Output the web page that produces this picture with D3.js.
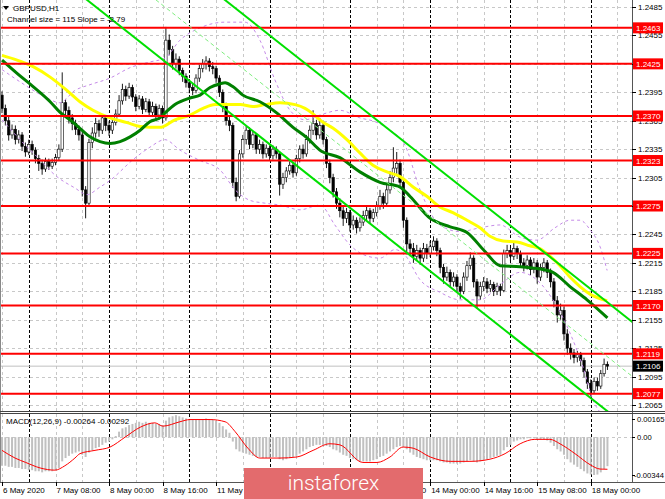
<!DOCTYPE html>
<html><head><meta charset="utf-8">
<script src="https://cdn.jsdelivr.net/npm/d3@7"></script>
<style>
body{margin:0;background:#fff}
svg{display:block}
text{font-family:"Liberation Sans",Arial,sans-serif;font-size:8px}
</style>
</head><body>
<svg id="chart" width="665" height="499"></svg>
<script>
// ---------- DATA ----------
const firstOpen = 1.2392;
const closes = [
1.2378,1.2365,1.2350,1.2356,1.2345,1.2350,1.2338,1.2332,1.2340,1.2334,
1.2325,1.2320,1.2314,1.2322,1.2317,1.2321,1.2326,1.2335,1.2384,1.2376,
1.2368,1.2362,1.2356,1.2350,1.2292,1.2278,1.2342,1.2352,1.2362,1.2355,
1.2368,1.2360,1.2355,1.2363,1.2372,1.2386,1.2398,1.2391,1.2400,1.2390,
1.2380,1.2388,1.2377,1.2385,1.2374,1.2380,1.2371,1.2378,1.2368,1.2450,
1.2440,1.2425,1.2430,1.2418,1.2412,1.2405,1.2400,1.2397,1.2410,1.2420,
1.2425,1.2428,1.2422,1.2420,1.2410,1.2395,1.2380,1.2365,1.2360,1.2300,
1.2285,1.2330,1.2345,1.2355,1.2340,1.2350,1.2335,1.2340,1.2330,1.2336,
1.2328,1.2335,1.2330,1.2298,1.2305,1.2312,1.2318,1.2310,1.2325,1.2335,
1.2330,1.2345,1.2355,1.2362,1.2350,1.2360,1.2345,1.2320,1.2305,1.2290,
1.2278,1.2270,1.2262,1.2268,1.2255,1.2260,1.2252,1.2258,1.2265,1.2270,
1.2262,1.2268,1.2275,1.2285,1.2278,1.2292,1.2305,1.2315,1.2320,1.2300,
1.2260,1.2235,1.2230,1.2222,1.2228,1.2220,1.2230,1.2225,1.2232,1.2238,
1.2228,1.2210,1.2200,1.2205,1.2195,1.2200,1.2190,1.2185,1.2200,1.2212,
1.2220,1.2195,1.2180,1.2190,1.2195,1.2188,1.2192,1.2185,1.2190,1.2186,
1.2225,1.2228,1.2222,1.2230,1.2225,1.2215,1.2212,1.2218,1.2208,1.2215,
1.2200,1.2210,1.2215,1.2205,1.2195,1.2175,1.2160,1.2165,1.2140,1.2125,
1.2120,1.2115,1.2118,1.2112,1.2100,1.2088,1.2080,1.2090,1.2085,1.2098,
1.2108,1.2106];
const highs = [
1.2396,1.2382,1.2369,1.2361,1.2360,1.2355,1.2353,1.2342,1.2345,1.2344,
1.2337,1.2329,1.2324,1.2326,1.2325,1.2325,1.2330,1.2340,1.2416,1.2388,
1.2380,1.2372,1.2366,1.2360,1.2353,1.2296,1.2346,1.2358,1.2368,1.2366,
1.2372,1.2371,1.2364,1.2367,1.2377,1.2392,1.2404,1.2402,1.2405,1.2403,
1.2393,1.2392,1.2391,1.2389,1.2388,1.2385,1.2383,1.2382,1.2381,1.2464,
1.2456,1.2444,1.2436,1.2433,1.2421,1.2415,1.2409,1.2404,1.2414,1.2424,
1.2430,1.2433,1.2431,1.2427,1.2423,1.2413,1.2398,1.2384,1.2370,1.2363,
1.2305,1.2334,1.2350,1.2360,1.2358,1.2354,1.2352,1.2345,1.2343,1.2340,
1.2339,1.2339,1.2338,1.2333,1.2310,1.2316,1.2322,1.2321,1.2329,1.2339,
1.2340,1.2350,1.2360,1.2376,1.2366,1.2368,1.2364,1.2348,1.2324,1.2309,
1.2294,1.2283,1.2275,1.2273,1.2271,1.2265,1.2263,1.2263,1.2270,1.2274,
1.2273,1.2272,1.2280,1.2292,1.2289,1.2298,1.2312,1.2337,1.2332,1.2324,
1.2303,1.2263,1.2240,1.2236,1.2234,1.2231,1.2236,1.2235,1.2238,1.2243,
1.2241,1.2231,1.2214,1.2211,1.2208,1.2205,1.2203,1.2194,1.2205,1.2217,
1.2226,1.2223,1.2198,1.2195,1.2200,1.2199,1.2197,1.2195,1.2194,1.2193,
1.2229,1.2234,1.2231,1.2236,1.2233,1.2228,1.2220,1.2223,1.2221,1.2220,
1.2218,1.2214,1.2220,1.2218,1.2209,1.2199,1.2180,1.2172,1.2169,1.2145,
1.2130,1.2124,1.2122,1.2121,1.2115,1.2103,1.2092,1.2094,1.2094,1.2102,
1.2114,1.2111];
const lows = [
1.2373,1.2360,1.2344,1.2346,1.2340,1.2341,1.2333,1.2327,1.2329,1.2329,
1.2320,1.2312,1.2308,1.2311,1.2313,1.2314,1.2318,1.2323,1.2332,1.2370,
1.2362,1.2355,1.2350,1.2344,1.2285,1.2262,1.2275,1.2336,1.2347,1.2348,
1.2351,1.2354,1.2349,1.2351,1.2360,1.2369,1.2382,1.2386,1.2388,1.2385,
1.2375,1.2377,1.2372,1.2374,1.2369,1.2370,1.2365,1.2366,1.2362,1.2365,
1.2434,1.2419,1.2420,1.2413,1.2406,1.2400,1.2394,1.2392,1.2394,1.2406,
1.2416,1.2419,1.2417,1.2414,1.2405,1.2390,1.2374,1.2360,1.2354,1.2294,
1.2280,1.2283,1.2326,1.2340,1.2335,1.2336,1.2330,1.2330,1.2325,1.2326,
1.2323,1.2324,1.2325,1.2286,1.2293,1.2300,1.2308,1.2305,1.2307,1.2321,
1.2325,1.2327,1.2341,1.2350,1.2345,1.2346,1.2340,1.2315,1.2299,1.2284,
1.2272,1.2263,1.2254,1.2257,1.2248,1.2250,1.2246,1.2248,1.2254,1.2260,
1.2257,1.2258,1.2264,1.2271,1.2272,1.2275,1.2288,1.2300,1.2309,1.2294,
1.2252,1.2224,1.2222,1.2215,1.2217,1.2213,1.2216,1.2219,1.2221,1.2228,
1.2222,1.2204,1.2193,1.2196,1.2189,1.2190,1.2184,1.2177,1.2182,1.2196,
1.2208,1.2189,1.2167,1.2176,1.2185,1.2183,1.2184,1.2180,1.2181,1.2180,
1.2184,1.2220,1.2217,1.2218,1.2219,1.2210,1.2206,1.2208,1.2202,1.2204,
1.2193,1.2196,1.2205,1.2199,1.2189,1.2168,1.2152,1.2155,1.2133,1.2118,
1.2113,1.2109,1.2110,1.2106,1.2094,1.2082,1.2074,1.2077,1.2080,1.2082,
1.2095,1.2102];

const macdMain = [
-0.0026,-0.0026,-0.0027,-0.0027,-0.0028,-0.0028,-0.0029,-0.0029,-0.0030,-0.0030,
-0.0031,-0.0031,-0.0032,-0.0031,-0.0031,-0.0031,-0.0030,-0.0028,-0.0022,-0.0019,
-0.0017,-0.0015,-0.0014,-0.0013,-0.0016,-0.0018,-0.0014,-0.0012,-0.0010,-0.0009,
-0.0007,-0.0005,-0.0004,-0.0002,0.0001,0.0005,0.0008,0.0009,0.0011,0.0012,
0.0013,0.0014,0.0013,0.0014,0.0013,0.0013,0.0012,0.0012,0.0011,0.0015,
0.0018,0.0019,0.0020,0.0019,0.0018,0.0017,0.0016,0.0016,0.0016,0.0016,
0.0016,0.0017,0.0016,0.0016,0.0015,0.0013,0.0010,0.0007,0.0004,-0.0004,
-0.0011,-0.0013,-0.0014,-0.0015,-0.0016,-0.0017,-0.0018,-0.0018,-0.0019,-0.0019,
-0.0019,-0.0018,-0.0018,-0.0020,-0.0021,-0.0020,-0.0019,-0.0018,-0.0017,-0.0015,
-0.0013,-0.0011,-0.0009,-0.0008,-0.0007,-0.0007,-0.0007,-0.0008,-0.0009,-0.0011,
-0.0012,-0.0014,-0.0016,-0.0017,-0.0019,-0.0020,-0.0021,-0.0022,-0.0022,-0.0022,
-0.0022,-0.0021,-0.0020,-0.0018,-0.0017,-0.0015,-0.0013,-0.0011,-0.0009,-0.0008,
-0.0009,-0.0011,-0.0014,-0.0016,-0.0018,-0.0019,-0.0020,-0.0021,-0.0021,-0.0021,
-0.0021,-0.0022,-0.0023,-0.0023,-0.0024,-0.0024,-0.0024,-0.0024,-0.0023,-0.0022,
-0.0021,-0.0022,-0.0023,-0.0022,-0.0021,-0.0020,-0.0019,-0.0018,-0.0017,-0.0016,
-0.0012,-0.0009,-0.0007,-0.0004,-0.0003,-0.0002,-0.0002,-0.0001,-0.0001,-0.0001,
-0.0002,-0.0002,-0.0002,-0.0003,-0.0005,-0.0008,-0.0011,-0.0013,-0.0016,-0.0020,
-0.0023,-0.0025,-0.0027,-0.0029,-0.0031,-0.0033,-0.0034,-0.00344,-0.0034,-0.0032,
-0.0029,-0.00264];
const macdSignal = [[0,-0.0012],[3.9,-0.0019],[7.1,-0.0023],[11.4,-0.0028],[15.8,-0.0030],[18.8,-0.0026],
[21.8,-0.0019],[23.3,-0.0015],[27.8,-0.0012],[32.3,-0.0009],[36.8,0.0000],[41.3,0.0009],
[45.7,0.0013],[48.1,0.0010],[53.2,0.0014],[56.2,0.0016],[62.2,0.0016],[66.7,0.0014],
[69.7,0.0005],[73.5,-0.0010],[77.1,-0.0019],[83.1,-0.0019],[88.2,-0.0018],[93,-0.0012],
[98,-0.0006],[101,-0.0007],[107.9,-0.0023],[112.1,-0.0023],[116,-0.0018],[119.9,-0.0009],[122.9,-0.0010],
[128,-0.0018],[134,-0.0022],[139.9,-0.0022],[145.9,-0.0020],[150.4,-0.0015],[154.9,-0.0006],[159.3,-0.0002],
[163.8,-0.0002],[166.8,-0.0006],[171.3,-0.0015],[175.8,-0.0025],[178.8,-0.0029],[181,-0.00292]];

const maYellow = [[0,1.2434],[4.5,1.2429],[9.3,1.2422],[14.4,1.2411],[19.4,1.2397],[23.3,1.2385],[27.2,1.2376],
[32.3,1.2368],[37.4,1.2363],[41.3,1.2359],[47.2,1.2358],[51.7,1.2366],[56.2,1.2371],[60.1,1.2378],[63.7,1.2382],
[71.2,1.2382],[75,1.2380],[78.6,1.2382],[83.1,1.2384],[87.6,1.2382],[90.6,1.2378],[92.7,1.2373],[95.7,1.2364],
[99,1.2357],[103.1,1.2345],[107,1.2331],[110.9,1.2318],[115.1,1.2311],[119,1.2306],[122.9,1.2295],[127.1,1.2285],
[130.9,1.2274],[134.8,1.2268],[139,1.2260],[142.9,1.2252],[145.9,1.2243],[149.8,1.2238],[154,1.2237],
[157.8,1.2233],[160.8,1.2230],[163.8,1.2222],[166.8,1.2212],[169.8,1.2200],[172.8,1.2190],[175.8,1.2182],[180.9,1.2175]];
const maGreen = [[0,1.2429],[4.5,1.2415],[9.3,1.2401],[14.4,1.2385],[17.3,1.2374],[20.3,1.2366],[23.3,1.2357],
[26.3,1.2348],[29.3,1.2343],[32.3,1.2341],[35.3,1.2343],[38.3,1.2348],[41.3,1.2355],[44.2,1.2364],[47.2,1.2368],
[48.7,1.2373],[51.7,1.2382],[56.2,1.2389],[59.2,1.2392],[62.2,1.2400],[65.2,1.2404],[66.7,1.2405],[69,1.2401],
[72,1.2392],[77.1,1.2385],[82.2,1.2373],[87,1.2358],[91.2,1.2347],[95,1.2334],[101,1.2326],[107,1.2311],
[113,1.2300],[119,1.2295],[122,1.2285],[128,1.2262],[134,1.2253],[139,1.2247],[144.4,1.2227],[148.9,1.2212],
[154.9,1.2211],[159.9,1.2209],[164.7,1.2205],[169.8,1.2190],[174.9,1.2176],[181,1.2157]];
const bandUpper = [[0,1.2419],[5.4,1.2406],[12.9,1.2390],[17.3,1.2384],[21.8,1.2397],[26.3,1.2403],[32.3,1.2410],
[38.3,1.2421],[44.2,1.2427],[48.7,1.2431],[53.2,1.2450],[59.2,1.2463],[66.7,1.2469],[72.6,1.2469],[77.1,1.2450],
[81.6,1.2408],[86.1,1.2376],[90.6,1.2366],[95.1,1.2371],[101,1.2376],[107,1.2368],[111.5,1.2364],[116,1.2355],
[120.5,1.2339],[125,1.2292],[130.9,1.2255],[136.9,1.2248],[142.9,1.2252],[148.9,1.2255],[154.9,1.2242],
[159.9,1.2239],[165.3,1.2252],[169.8,1.2260],[172.8,1.2260],[175.8,1.2250],[178.8,1.2232],[180.9,1.2207]];
const bandLower = [[0,1.2366],[5.4,1.2345],[9.9,1.2329],[16.4,1.2306],[21.8,1.2294],[25.4,1.2287],[29.3,1.2295],
[32.3,1.2302],[39.2,1.2324],[44.2,1.2337],[48.7,1.2345],[53.2,1.2334],[59.2,1.2323],[65.2,1.2313],[69.7,1.2292],
[74.1,1.2281],[78.6,1.2278],[83.1,1.2276],[89.1,1.2271],[95.1,1.2276],[99.5,1.2255],[104,1.2234],[108.5,1.2223],
[113,1.2220],[117.5,1.2229],[120.5,1.2223],[125,1.2197],[130.9,1.2184],[136.9,1.2176],[142.9,1.2176],
[148.9,1.2192],[154.9,1.2205],[159.9,1.2197],[164.7,1.2176],[169.8,1.2141],[173.7,1.2105],[176.7,1.2070],[179.7,1.2054]];

const levels = [1.2463,1.2425,1.2370,1.2323,1.2275,1.2225,1.2170,1.2119,1.2077];
const priceTicks = [1.2485,1.2455,1.2425,1.2395,1.2365,1.2335,1.2305,1.2275,1.2245,1.2215,1.2185,1.2155,1.2125,1.2095,1.2065];
const lastPrice = 1.2106;
const macdTicks = [0.00165, 0.00, -0.00344];
const timeLabels = [[0,"6 May 2020"],[16,"7 May 08:00"],[32,"8 May 00:00"],[48,"8 May 16:00"],[64,"11 May 08:00"],
[80,"12 May 00:00"],[96,"12 May 16:00"],[112,"13 May 08:00"],[128,"14 May 00:00"],[144,"14 May 16:00"],
[160,"15 May 08:00"],[176,"18 May 00:00"]];
const daySeparators = [8,32,56,80,104,128,152,176];
const gridBars = [0,16,24,40,48,64,72,88,96,112,120,136,144,160,168,184];
const channelLower = [[0,1.25634],[190,1.20333]];
const channelSize = 0.0115;

// ---------- DRAWING ----------
const svg = d3.select("#chart");
const W = 632, mainBottom = 411, macdTop = 414, macdBottom = 482;
const logo = {x0:244, x1:423, y0:468};
const x = d3.scaleLinear().domain([0,181]).range([2, 2+181*3.345]);
const y = d3.scaleLinear().domain([1.2065,1.2485]).range([405,7]);
const yM = d3.scaleLinear().domain([-0.00344,0.00165]).range([475,419]);

const defs = svg.append("defs");
defs.append("clipPath").attr("id","clipMain").append("rect").attr("x",0).attr("y",0).attr("width",W).attr("height",mainBottom);
defs.append("clipPath").attr("id","clipMacd").append("rect").attr("x",0).attr("y",macdTop).attr("width",W).attr("height",macdBottom-macdTop);

svg.append("rect").attr("width",665).attr("height",499).attr("fill","#fff");

const main = svg.append("g").attr("clip-path","url(#clipMain)");
const macdG = svg.append("g").attr("clip-path","url(#clipMacd)");

// grids
main.selectAll(".hg").data(priceTicks).join("line")
  .attr("x1",0).attr("x2",W).attr("y1",d=>Math.round(y(d))+0.5).attr("y2",d=>Math.round(y(d))+0.5)
  .attr("stroke","#c8c8c8").attr("stroke-dasharray","3,3");
[main, macdG].forEach((g,k)=>{
  const y1 = k===0?0:macdTop, y2 = k===0?mainBottom:macdBottom;
  g.selectAll(".vg").data(gridBars).join("line")
    .attr("x1",d=>Math.round(x(d))+0.5).attr("x2",d=>Math.round(x(d))+0.5).attr("y1",y1).attr("y2",y2)
    .attr("stroke","#c8c8c8").attr("stroke-dasharray","3,3");
  g.selectAll(".sep").data(daySeparators).join("line")
    .attr("x1",d=>Math.round(x(d))+0.5).attr("x2",d=>Math.round(x(d))+0.5).attr("y1",y1).attr("y2",y2)
    .attr("stroke","#000").attr("stroke-dasharray","3,2");
});
macdG.append("line").attr("x1",0).attr("x2",W).attr("y1",Math.round(yM(0))+0.5).attr("y2",Math.round(yM(0))+0.5)
  .attr("stroke","#c8c8c8").attr("stroke-dasharray","3,3");

// current price line
main.append("line").attr("x1",0).attr("x2",W).attr("y1",y(lastPrice)).attr("y2",y(lastPrice)).attr("stroke","#c0c0c0");

// candles
const bars = closes.map((c,i)=>({i, o: i===0?firstOpen:closes[i-1], h: highs[i], l: lows[i], c}));
main.selectAll(".wick").data(bars).join("line")
  .attr("x1",d=>x(d.i)).attr("x2",d=>x(d.i)).attr("y1",d=>y(d.h)).attr("y2",d=>y(d.l))
  .attr("stroke","#000").attr("stroke-width",0.9);
main.selectAll(".body").data(bars).join("rect")
  .attr("x",d=>x(d.i)-1.2).attr("width",2.4)
  .attr("y",d=>y(Math.max(d.o,d.c))).attr("height",d=>Math.max(0.8,Math.abs(y(d.o)-y(d.c))))
  .attr("fill",d=>d.c>=d.o?"#fff":"#000").attr("stroke","#000").attr("stroke-width",0.6);

// bands
const lineGen = d3.line().x(d=>x(d[0])).y(d=>y(d[1])).curve(d3.curveMonotoneX);
[bandUpper,bandLower].forEach(b=>{
  main.append("path").attr("d",lineGen(b)).attr("fill","none").attr("stroke","#c58be8")
    .attr("stroke-width",1).attr("stroke-dasharray","3,3");
});
// MAs
main.append("path").attr("d",lineGen(maYellow)).attr("fill","none").attr("stroke","#ffff00").attr("stroke-width",3);
main.append("path").attr("d",lineGen(maGreen)).attr("fill","none").attr("stroke","#008000").attr("stroke-width",3);

// horizontal levels
main.selectAll(".lvl").data(levels).join("line")
  .attr("x1",0).attr("x2",W).attr("y1",d=>y(d)).attr("y2",d=>y(d))
  .attr("stroke","#ff0000").attr("stroke-width",2);

// channel
const chLine = d3.line().x(d=>x(d[0])).y(d=>y(d[1]));
const shift = (arr,dv)=>arr.map(p=>[p[0],p[1]+dv]);
main.append("path").attr("d",chLine(shift(channelLower,channelSize/2))).attr("stroke","#80ee80").attr("stroke-width",1)
  .attr("stroke-dasharray","4,3").attr("fill","none");
main.append("path").attr("d",chLine(channelLower)).attr("stroke","#00e000").attr("stroke-width",2).attr("fill","none");
main.append("path").attr("d",chLine(shift(channelLower,channelSize))).attr("stroke","#00e000").attr("stroke-width",2).attr("fill","none");

// MACD histogram & signal
macdG.selectAll(".hist").data(macdMain).join("rect")
  .attr("x",(d,i)=>x(i)-1).attr("width",2)
  .attr("y",d=>Math.min(yM(d),yM(0))).attr("height",d=>Math.abs(yM(d)-yM(0)))
  .attr("fill","#c0c0c0");
macdG.append("path").attr("d",d3.line().x(d=>x(d[0])).y(d=>yM(d[1])).curve(d3.curveMonotoneX)(macdSignal))
  .attr("fill","none").attr("stroke","#ff0000").attr("stroke-width",1);

// frames
svg.append("line").attr("x1",W+0.5).attr("x2",W+0.5).attr("y1",0).attr("y2",macdBottom).attr("stroke","#555");
svg.append("line").attr("x1",0.5).attr("x2",0.5).attr("y1",0).attr("y2",macdBottom).attr("stroke","#888");
svg.append("line").attr("x1",0).attr("x2",665).attr("y1",mainBottom+0.5).attr("y2",mainBottom+0.5).attr("stroke","#444");
svg.append("line").attr("x1",0).attr("x2",665).attr("y1",mainBottom+2.5).attr("y2",mainBottom+2.5).attr("stroke","#444");
svg.append("line").attr("x1",0).attr("x2",665).attr("y1",macdBottom+0.5).attr("y2",macdBottom+0.5).attr("stroke","#555");

// price axis (tick labels fully covered by a level tag are not drawn, as in the reference)
const visibleTicks = priceTicks.filter(t=>!levels.some(l=>Math.abs(y(l)-y(t))<3));
const pa = svg.append("g");
pa.selectAll("line").data(priceTicks).join("line")
  .attr("x1",W).attr("x2",W+4).attr("y1",d=>Math.round(y(d))+0.5).attr("y2",d=>Math.round(y(d))+0.5).attr("stroke","#000");
pa.selectAll("text").data(visibleTicks).join("text")
  .attr("x",638).attr("y",d=>y(d)+3).text(d=>d.toFixed(4)).attr("fill","#000");
const lv = svg.append("g");
lv.selectAll("rect").data(levels).join("rect")
  .attr("x",W+1).attr("y",d=>y(d)-5.5).attr("width",30).attr("height",11).attr("fill","#ff0000");
lv.selectAll("text").data(levels).join("text")
  .attr("x",636).attr("y",d=>y(d)+3).text(d=>d.toFixed(4)).attr("fill","#fff");
svg.append("rect").attr("x",W+1).attr("y",y(lastPrice)-5.5).attr("width",30).attr("height",11).attr("fill","#000");
svg.append("text").attr("x",636).attr("y",y(lastPrice)+3).text(lastPrice.toFixed(4)).attr("fill","#fff");

// macd axis
svg.selectAll(".mt").data(macdTicks).join("text")
  .attr("x",d=>d<0?634:637).attr("y",d=>yM(d)+3).text(d=>d===0?"0.00":d.toFixed(5)).attr("fill","#000")
  .style("font-size","7.6px");
svg.selectAll(".mtl").data(macdTicks).join("line")
  .attr("x1",W).attr("x2",W+3).attr("y1",d=>Math.round(yM(d))+0.5).attr("y2",d=>Math.round(yM(d))+0.5).attr("stroke","#000");

// time axis (labels lying fully under the logo are hidden in the reference)
svg.selectAll(".tt").data(timeLabels).join("line")
  .attr("x1",d=>Math.round(x(d[0]))+0.5).attr("x2",d=>Math.round(x(d[0]))+0.5)
  .attr("y1",macdBottom).attr("y2",macdBottom+4).attr("stroke","#000");
const shownLabels = timeLabels.filter(d=>!(x(d[0])>logo.x0 && x(d[0])+52<logo.x1));
svg.selectAll(".tl").data(shownLabels).join("text")
  .attr("x",d=>x(d[0])+1).attr("y",493).text(d=>d[1]).attr("fill","#000");

// header texts
svg.append("path").attr("d","M3,6 L9,6 L6,10 Z").attr("fill","#000");
svg.append("text").attr("x",13).attr("y",11).text("GBPUSD,H1");
svg.append("text").attr("x",7).attr("y",22).text("Channel size = 115 Slope = -2.79");
svg.append("text").attr("x",6).attr("y",424).text("MACD(12,26,9) -0.00264 -0.00292");

// logo
svg.append("rect").attr("x",logo.x0).attr("y",logo.y0).attr("width",logo.x1-logo.x0).attr("height",499-logo.y0).attr("fill","#e36b6d");
svg.append("text").attr("x",333.5).attr("y",490).attr("text-anchor","middle")
  .style("font-family","Roboto, Lato, sans-serif").style("font-weight",300).style("font-size","21px")
  .attr("fill","#fff").text("instaforex");
</script>
</body></html>
